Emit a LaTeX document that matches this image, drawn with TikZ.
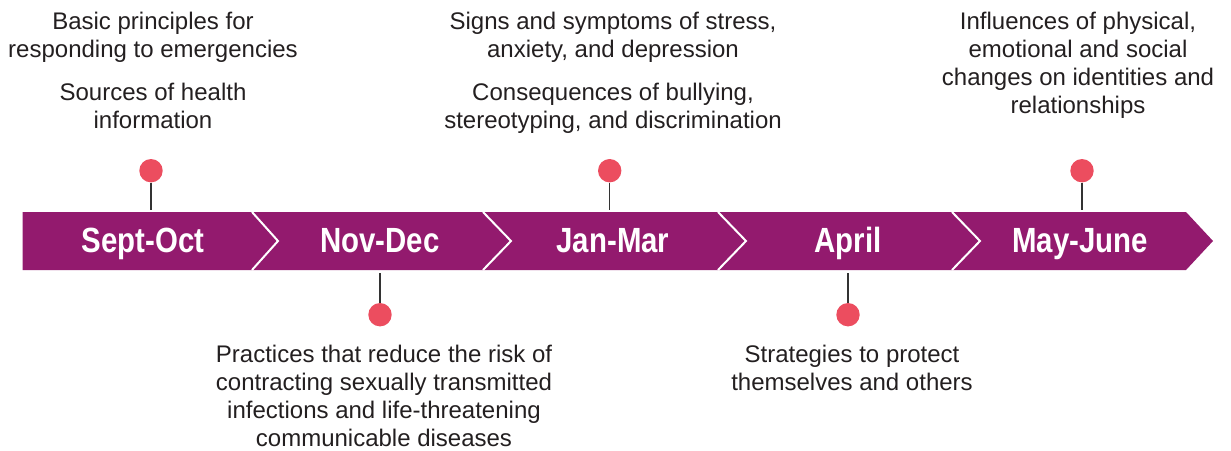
\documentclass[tikz,border=0pt]{standalone}
\usepackage{fontspec}
\setmainfont{Liberation Sans}
\newfontfamily\monthfont[FakeStretch=0.84]{Liberation Sans Bold}
\definecolor{bandpurple}{HTML}{931A6E}
\definecolor{pinred}{HTML}{EC4D5F}
\definecolor{txtgray}{HTML}{231F20}
\definecolor{stemgray}{HTML}{333333}
\begin{document}
\begin{tikzpicture}[x=1pt,y=-1pt,
  topic/.style={align=center,inner sep=0pt,text=txtgray,font=\fontsize{24}{28}\selectfont},
  month/.style={anchor=base,inner sep=0pt,text=white,font=\monthfont\fontsize{35}{40}\selectfont},
  pin/.style={circle,fill=pinred,draw=none,minimum size=23.4pt,inner sep=0pt},
  stem/.style={draw=stemgray,line width=1.3pt},
  sep/.style={draw=white,line width=2pt}]
\useasboundingbox (0,0) rectangle (1231,450);
% band
\fill[bandpurple] (22.7,212) -- (1186,212) -- (1213,241) -- (1186,270) -- (22.7,270) -- cycle;
\foreach \sx/\tx in {252/278,483/511,718/746,952/980}{
  \draw[sep] (\sx,212) -- (\tx,241) -- (\sx,270);
}
% month labels
\node[month] (m1) at (143,252) {Sept-Oct};
\node[month] (m2) at (380,252) {Nov-Dec};
\node[month] (m3) at (613,252) {Jan-Mar};
\node[month] (m4) at (848,252) {April};
\node[month] (m5) at (1080,252) {May-June};
% stem end points on the band
\coordinate (b1) at (151,210);
\coordinate (b2) at (380,273);
\coordinate (b3) at (609.7,210);
\coordinate (b4) at (848,273);
\coordinate (b5) at (1082,210);
% pins
\node[pin] (p1) at (151,170.7) {};
\node[pin] (p2) at (380,314.7) {};
\node[pin] (p3) at (609.7,170.7) {};
\node[pin] (p4) at (848,314.7) {};
\node[pin] (p5) at (1082,170.7) {};
\draw[stem] (p1.south) -- (b1);
\draw[stem] (p2.north) -- (b2);
\draw[stem] (p3.south) -- (b3);
\draw[stem] (p4.north) -- (b4);
\draw[stem] (p5.south) -- (b5);
% topic texts
\node[topic,anchor=north] (t1) at (153,12.3) {Basic principles for\\responding to emergencies\\[15pt]Sources of health\\information};
\node[topic,anchor=north] (t3) at (613,12.3) {Signs and symptoms of stress,\\anxiety, and depression\\[15pt]Consequences of bullying,\\stereotyping, and discrimination};
\node[topic,anchor=north] (t5) at (1078,12.3) {Influences of physical,\\emotional and social\\changes on identities and\\relationships};
\node[topic,anchor=north] (t2) at (384,345) {Practices that reduce the risk of\\contracting sexually transmitted\\infections and life-threatening\\communicable diseases};
\node[topic,anchor=north] (t4) at (852,345) {Strategies to protect\\themselves and others};
\end{tikzpicture}
\end{document}
